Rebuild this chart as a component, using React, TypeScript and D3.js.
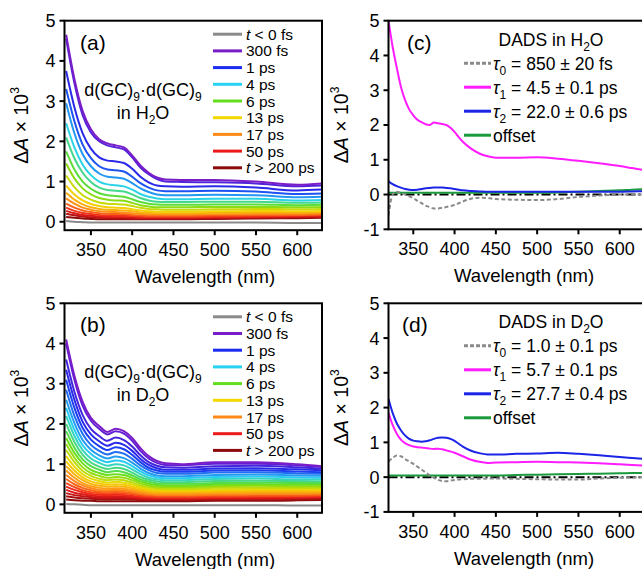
import React from 'react';
import * as d3 from 'd3';

// wavelength grid (nm) for the transient spectra in (a) and (b)
const wl = [320, 330, 340, 350, 360, 370, 380, 390, 400, 410, 420, 430, 440, 460, 500, 550, 600, 630];

// (a) transient spectra in H2O, early -> late
const h2oSpectra = [
  [4.65, 3.55, 2.75, 2.30, 2.05, 1.95, 1.90, 1.85, 1.65, 1.40, 1.22, 1.10, 1.05, 1.04, 1.04, 1.00, 0.92, 0.95],
  [4.55, 3.45, 2.65, 2.22, 2.00, 1.90, 1.85, 1.80, 1.60, 1.35, 1.18, 1.06, 1.00, 0.99, 0.98, 0.95, 0.88, 0.90],
  [3.75, 2.85, 2.20, 1.82, 1.60, 1.52, 1.50, 1.46, 1.32, 1.12, 0.98, 0.90, 0.88, 0.87, 0.88, 0.85, 0.78, 0.80],
  [3.30, 2.50, 1.92, 1.58, 1.38, 1.30, 1.28, 1.25, 1.12, 0.96, 0.85, 0.78, 0.76, 0.76, 0.77, 0.75, 0.69, 0.70],
  [2.95, 2.20, 1.68, 1.38, 1.20, 1.12, 1.10, 1.07, 0.96, 0.83, 0.74, 0.68, 0.66, 0.66, 0.67, 0.66, 0.61, 0.62],
  [2.45, 1.85, 1.42, 1.16, 1.00, 0.93, 0.91, 0.88, 0.80, 0.69, 0.62, 0.58, 0.56, 0.56, 0.57, 0.57, 0.53, 0.54],
  [2.10, 1.58, 1.22, 0.99, 0.85, 0.79, 0.77, 0.75, 0.68, 0.59, 0.53, 0.50, 0.49, 0.49, 0.50, 0.50, 0.47, 0.48],
  [1.75, 1.30, 1.00, 0.82, 0.71, 0.66, 0.64, 0.62, 0.56, 0.49, 0.45, 0.43, 0.42, 0.42, 0.43, 0.43, 0.41, 0.42],
  [1.45, 1.08, 0.83, 0.68, 0.59, 0.55, 0.53, 0.52, 0.47, 0.41, 0.38, 0.36, 0.36, 0.36, 0.37, 0.37, 0.36, 0.37],
  [1.15, 0.86, 0.66, 0.55, 0.48, 0.45, 0.44, 0.43, 0.39, 0.35, 0.32, 0.31, 0.30, 0.30, 0.31, 0.32, 0.31, 0.32],
  [0.90, 0.68, 0.53, 0.44, 0.39, 0.36, 0.35, 0.34, 0.31, 0.28, 0.26, 0.25, 0.25, 0.25, 0.26, 0.27, 0.26, 0.27],
  [0.72, 0.55, 0.43, 0.36, 0.32, 0.30, 0.29, 0.28, 0.26, 0.23, 0.22, 0.21, 0.21, 0.21, 0.22, 0.23, 0.23, 0.24],
  [0.58, 0.45, 0.35, 0.30, 0.26, 0.25, 0.24, 0.23, 0.21, 0.19, 0.18, 0.18, 0.18, 0.18, 0.19, 0.20, 0.20, 0.21],
  [0.45, 0.35, 0.28, 0.24, 0.21, 0.20, 0.19, 0.19, 0.17, 0.16, 0.15, 0.15, 0.15, 0.15, 0.16, 0.17, 0.17, 0.18],
  [0.35, 0.27, 0.22, 0.19, 0.17, 0.16, 0.15, 0.15, 0.14, 0.13, 0.12, 0.12, 0.12, 0.12, 0.13, 0.14, 0.15, 0.16],
  [0.27, 0.21, 0.17, 0.15, 0.13, 0.12, 0.12, 0.12, 0.11, 0.10, 0.10, 0.10, 0.10, 0.10, 0.11, 0.12, 0.13, 0.14],
  [0.20, 0.16, 0.13, 0.11, 0.10, 0.09, 0.09, 0.09, 0.08, 0.08, 0.08, 0.08, 0.08, 0.08, 0.09, 0.10, 0.11, 0.12],
  [0.12, 0.10, 0.08, 0.07, 0.06, 0.06, 0.06, 0.06, 0.06, 0.06, 0.06, 0.06, 0.06, 0.06, 0.07, 0.08, 0.09, 0.10],
];
const h2oBefore = [0.02, 0.0, -0.01, -0.02, -0.02, -0.02, -0.02, -0.02, -0.02, -0.02, -0.02, -0.02, -0.02, -0.02, -0.02, -0.02, -0.03, -0.03];

// (b) transient spectra in D2O, early -> late
const d2oSpectra = [
  [4.10, 3.20, 2.55, 2.15, 1.95, 1.80, 1.88, 1.82, 1.65, 1.40, 1.20, 1.08, 1.02, 1.00, 1.05, 1.05, 1.00, 0.95],
  [4.00, 3.10, 2.45, 2.08, 1.88, 1.74, 1.82, 1.76, 1.58, 1.33, 1.14, 1.03, 0.98, 0.97, 1.01, 1.01, 0.97, 0.93],
  [3.60, 2.80, 2.22, 1.88, 1.70, 1.58, 1.66, 1.60, 1.44, 1.22, 1.05, 0.96, 0.92, 0.91, 0.95, 0.96, 0.92, 0.89],
  [3.35, 2.60, 2.05, 1.74, 1.57, 1.46, 1.53, 1.48, 1.33, 1.13, 0.98, 0.90, 0.86, 0.86, 0.89, 0.90, 0.87, 0.85],
  [3.10, 2.40, 1.90, 1.61, 1.45, 1.35, 1.42, 1.37, 1.23, 1.05, 0.91, 0.84, 0.81, 0.81, 0.84, 0.85, 0.82, 0.80],
  [2.85, 2.20, 1.75, 1.48, 1.33, 1.24, 1.30, 1.26, 1.13, 0.97, 0.85, 0.78, 0.76, 0.76, 0.79, 0.80, 0.77, 0.76],
  [2.60, 2.02, 1.60, 1.36, 1.22, 1.14, 1.19, 1.15, 1.04, 0.89, 0.78, 0.72, 0.70, 0.70, 0.73, 0.74, 0.72, 0.71],
  [2.40, 1.85, 1.47, 1.25, 1.12, 1.05, 1.09, 1.06, 0.95, 0.82, 0.72, 0.67, 0.65, 0.65, 0.68, 0.69, 0.67, 0.66],
  [2.20, 1.70, 1.35, 1.14, 1.03, 0.96, 1.00, 0.97, 0.87, 0.75, 0.66, 0.62, 0.60, 0.60, 0.63, 0.64, 0.62, 0.62],
  [2.00, 1.55, 1.23, 1.04, 0.94, 0.88, 0.91, 0.88, 0.79, 0.68, 0.61, 0.57, 0.55, 0.55, 0.58, 0.59, 0.58, 0.57],
  [1.82, 1.41, 1.12, 0.95, 0.86, 0.80, 0.83, 0.80, 0.72, 0.62, 0.56, 0.52, 0.51, 0.51, 0.53, 0.54, 0.53, 0.53],
  [1.65, 1.28, 1.02, 0.86, 0.78, 0.73, 0.75, 0.73, 0.66, 0.57, 0.51, 0.48, 0.47, 0.47, 0.49, 0.50, 0.49, 0.49],
  [1.50, 1.16, 0.92, 0.78, 0.71, 0.66, 0.68, 0.66, 0.60, 0.52, 0.47, 0.44, 0.43, 0.43, 0.45, 0.46, 0.45, 0.45],
  [1.35, 1.05, 0.83, 0.71, 0.64, 0.60, 0.62, 0.60, 0.54, 0.47, 0.43, 0.40, 0.39, 0.39, 0.41, 0.42, 0.41, 0.41],
  [1.20, 0.94, 0.75, 0.64, 0.58, 0.54, 0.56, 0.54, 0.49, 0.43, 0.39, 0.37, 0.36, 0.36, 0.37, 0.38, 0.38, 0.38],
  [1.07, 0.84, 0.67, 0.57, 0.52, 0.49, 0.50, 0.49, 0.44, 0.39, 0.35, 0.33, 0.33, 0.33, 0.34, 0.35, 0.35, 0.35],
  [0.95, 0.75, 0.60, 0.51, 0.46, 0.44, 0.45, 0.44, 0.40, 0.35, 0.32, 0.30, 0.30, 0.30, 0.31, 0.32, 0.32, 0.32],
  [0.84, 0.66, 0.53, 0.45, 0.41, 0.39, 0.40, 0.39, 0.36, 0.32, 0.29, 0.27, 0.27, 0.27, 0.28, 0.29, 0.29, 0.29],
  [0.73, 0.58, 0.47, 0.40, 0.36, 0.35, 0.36, 0.35, 0.32, 0.28, 0.26, 0.24, 0.24, 0.24, 0.25, 0.26, 0.26, 0.27],
  [0.63, 0.50, 0.41, 0.35, 0.32, 0.31, 0.32, 0.31, 0.28, 0.25, 0.23, 0.22, 0.22, 0.22, 0.23, 0.24, 0.24, 0.24],
  [0.53, 0.43, 0.35, 0.30, 0.28, 0.27, 0.28, 0.27, 0.25, 0.22, 0.20, 0.19, 0.19, 0.19, 0.20, 0.21, 0.21, 0.22],
  [0.44, 0.36, 0.30, 0.26, 0.24, 0.23, 0.24, 0.23, 0.21, 0.19, 0.18, 0.17, 0.17, 0.17, 0.18, 0.19, 0.19, 0.20],
  [0.36, 0.29, 0.25, 0.22, 0.20, 0.19, 0.20, 0.19, 0.18, 0.16, 0.15, 0.15, 0.15, 0.15, 0.16, 0.16, 0.17, 0.18],
  [0.28, 0.23, 0.20, 0.18, 0.16, 0.16, 0.16, 0.16, 0.15, 0.14, 0.13, 0.13, 0.13, 0.13, 0.14, 0.14, 0.15, 0.16],
  [0.20, 0.17, 0.15, 0.14, 0.13, 0.12, 0.13, 0.12, 0.12, 0.11, 0.11, 0.11, 0.11, 0.11, 0.12, 0.12, 0.13, 0.14],
  [0.12, 0.10, 0.09, 0.09, 0.08, 0.08, 0.08, 0.08, 0.08, 0.08, 0.08, 0.08, 0.08, 0.08, 0.09, 0.09, 0.10, 0.11],
];
const d2oBefore = [0.01, 0.0, -0.01, -0.02, -0.02, -0.02, -0.02, -0.02, -0.02, -0.02, -0.02, -0.02, -0.02, -0.02, -0.02, -0.02, -0.03, -0.03];

const legendLabels = ['t < 0 fs', '300 fs', '1 ps', '4 ps', '6 ps', '13 ps', '17 ps', '50 ps', 't > 200 ps'];
const legendColors = ['#8a8a8a', '#7a1cc8', '#1a2cf0', '#28d2f2', '#62de1e', '#f2d800', '#ff8a1a', '#ec1a1a', '#8c0c0c'];

// DADS wavelength grid and amplitudes
const dadsWl = [320, 325, 330, 335, 340, 345, 350, 355, 360, 365, 370, 375, 380, 385, 390, 395, 400, 405, 410, 420, 430, 440, 450, 475, 500, 525, 550, 575, 600, 615, 630];
const h2oTau0 = [-0.6, 0.0, 0.08, 0.05, 0.0, -0.05, -0.1, -0.18, -0.25, -0.32, -0.36, -0.4, -0.4, -0.38, -0.36, -0.33, -0.3, -0.25, -0.2, -0.12, -0.09, -0.1, -0.13, -0.15, -0.16, -0.13, -0.07, -0.03, 0.0, 0.0, 0.0];
const h2oTau1 = [5.0, 4.25, 3.65, 3.1, 2.72, 2.45, 2.28, 2.15, 2.08, 2.02, 2.0, 2.07, 2.05, 2.03, 2.0, 1.92, 1.8, 1.65, 1.52, 1.32, 1.18, 1.1, 1.06, 1.06, 1.07, 1.03, 0.97, 0.9, 0.82, 0.76, 0.7];
const h2oTau2 = [0.38, 0.3, 0.24, 0.2, 0.16, 0.14, 0.13, 0.14, 0.16, 0.18, 0.19, 0.2, 0.2, 0.2, 0.19, 0.18, 0.16, 0.14, 0.12, 0.1, 0.09, 0.08, 0.08, 0.08, 0.08, 0.08, 0.08, 0.08, 0.08, 0.09, 0.1];
const h2oOffset = [0.05, 0.05, 0.05, 0.05, 0.05, 0.05, 0.05, 0.05, 0.05, 0.05, 0.05, 0.05, 0.05, 0.05, 0.05, 0.05, 0.05, 0.05, 0.05, 0.05, 0.05, 0.05, 0.05, 0.05, 0.05, 0.06, 0.08, 0.1, 0.12, 0.14, 0.15];
const d2oTau0 = [0.45, 0.55, 0.62, 0.6, 0.52, 0.45, 0.38, 0.3, 0.22, 0.13, 0.05, -0.02, -0.08, -0.11, -0.12, -0.1, -0.08, -0.07, -0.06, -0.05, -0.05, -0.04, -0.04, -0.05, -0.06, -0.07, -0.07, -0.04, -0.02, -0.01, 0.0];
const d2oTau1 = [1.85, 1.5, 1.25, 1.08, 0.98, 0.92, 0.88, 0.86, 0.85, 0.84, 0.82, 0.81, 0.82, 0.8, 0.77, 0.74, 0.7, 0.65, 0.6, 0.5, 0.44, 0.41, 0.42, 0.43, 0.44, 0.43, 0.42, 0.4, 0.37, 0.35, 0.33];
const d2oTau2 = [2.25, 1.85, 1.55, 1.35, 1.2, 1.1, 1.05, 1.03, 1.02, 1.03, 1.06, 1.1, 1.13, 1.14, 1.13, 1.1, 1.04, 0.96, 0.88, 0.76, 0.69, 0.65, 0.65, 0.67, 0.68, 0.7, 0.67, 0.63, 0.58, 0.55, 0.52];
const d2oOffset = [0.05, 0.05, 0.05, 0.05, 0.05, 0.05, 0.05, 0.05, 0.05, 0.05, 0.05, 0.05, 0.05, 0.05, 0.05, 0.05, 0.05, 0.05, 0.05, 0.05, 0.05, 0.05, 0.05, 0.06, 0.07, 0.08, 0.09, 0.1, 0.11, 0.12, 0.12];

const xTicks = [350, 400, 450, 500, 550, 600];
const yTicksAB = [0, 1, 2, 3, 4, 5];
const yTicksCD = [-1, 0, 1, 2, 3, 4, 5];

const rainbow = ['#7a1cc8', '#1a2cf0', '#28d2f2', '#62de1e', '#f2d800', '#ff8a1a', '#ec1a1a', '#8c0c0c'];
const FONT = '"Liberation Sans", Arial, Helvetica, sans-serif';

// subscript followed by the rest of the text on the normal baseline
const sub = (t, rest) => [
  <tspan key="s" fontSize="12" dy="5">{t}</tspan>,
  rest ? <tspan key="r" dy="-5">{rest}</tspan> : null,
];

function Axes({ x, y, yTicks, titleX, yTitleX }) {
  const [x0, x1] = x.range();
  const [yb, yt] = y.range();
  const yc = (yb + yt) / 2;
  return (
    <g fontFamily={FONT} fill="#000">
      {yTicks.map(t => (
        <g key={'y' + t}>
          <line x1={x0 - 5} x2={x0} y1={y(t)} y2={y(t)} stroke="#000" strokeWidth={2} />
          <text x={x0 - 9} y={y(t)} dy="0.36em" textAnchor="end" fontSize="18">{t}</text>
        </g>
      ))}
      {xTicks.map(t => (
        <g key={'x' + t}>
          <line x1={x(t)} x2={x(t)} y1={yb} y2={yb + 5} stroke="#000" strokeWidth={2} />
          <text x={x(t)} y={yb + 26} textAnchor="middle" fontSize="18">{t}</text>
        </g>
      ))}
      <text x={titleX} y={yb + 53} textAnchor="middle" fontSize="18.5">Wavelength (nm)</text>
      <text transform={`translate(${yTitleX},${yc}) rotate(-90)`} textAnchor="middle" fontSize="19.5">
        Δ<tspan fontStyle="italic">A</tspan> × 10<tspan fontSize="12" dy="-9">3</tspan>
      </text>
      <rect x={x0} y={yt} width={x1 - x0} height={yb - yt} fill="none" stroke="#000" strokeWidth={2} />
    </g>
  );
}

function SpectraPanel({ top, spectra, before, letter, solvent }) {
  const x = d3.scaleLinear().domain([318, 630]).range([64.5, 322]);
  const y = d3.scaleLinear().domain([-0.21, 5]).range([top + 209.5, top]);
  const line = d3.line().x((d, i) => x(wl[i])).y(d => y(d)).curve(d3.curveMonotoneX);
  const col = d3.piecewise(d3.interpolateRgb, rainbow);
  const id = 'clip' + letter;
  return (
    <g>
      <clipPath id={id}>
        <rect x={x.range()[0]} y={top} width={x.range()[1] - x.range()[0]} height={209.5} />
      </clipPath>
      <g clipPath={`url(#${id})`} fill="none">
        {spectra.slice().reverse().map((s, k) => {
          const i = spectra.length - 1 - k;
          return <path key={i} d={line(s)} stroke={col(i / (spectra.length - 1))} strokeWidth={2} />;
        })}
        <path d={line(before)} stroke={legendColors[0]} strokeWidth={2} />
      </g>
      <Axes x={x} y={y} yTicks={yTicksAB} titleX={205} yTitleX={28} />
      <g fontFamily={FONT}>
        <text x={80} y={top + 29} fontSize="21">({letter})</text>
        <text x={143} y={top + 75} textAnchor="middle" fontSize="18">
          d(GC){sub('9', '·d(GC)')}{sub('9')}
        </text>
        <text x={143} y={top + 98} textAnchor="middle" fontSize="18">
          {'in ' + solvent}{sub('2', 'O')}
        </text>
        {legendLabels.map((l, i) => {
          const ly = top + 13.5 + i * 16.7;
          const italicT = l.startsWith('t ');
          return (
            <g key={l}>
              <line x1={213} x2={242} y1={ly} y2={ly} stroke={legendColors[i]} strokeWidth={3} />
              <text x={246} y={ly} dy="0.36em" fontSize="15.5">
                {italicT ? <><tspan fontStyle="italic">t</tspan>{l.slice(1)}</> : l}
              </text>
            </g>
          );
        })}
      </g>
    </g>
  );
}

function DadsPanel({ top, tau0, tau1, tau2, offset, letter, solvent, labels }) {
  const x = d3.scaleLinear().domain([320, 630]).range([388.5, 644.5]);
  const y = d3.scaleLinear().domain([-1, 5]).range([top + 208.6, top]);
  const line = d3.line().x((d, i) => x(dadsWl[i])).y(d => y(d)).curve(d3.curveMonotoneX);
  const id = 'clip' + letter;
  const series = [
    { v: tau0, color: '#8a8a8a', dash: '4,2.5' },
    { v: tau1, color: '#ff1cff', dash: null },
    { v: tau2, color: '#1c24e6', dash: null },
    { v: offset, color: '#1a9a3c', dash: null },
  ];
  const rows = [0, 1, 2, 3].map(i => top + 42.5 + i * 24);
  return (
    <g>
      <clipPath id={id}>
        <rect x={x.range()[0]} y={top} width={x.range()[1] - x.range()[0]} height={208.6} />
      </clipPath>
      <g clipPath={`url(#${id})`} fill="none">
        <line x1={x(320)} x2={x(630)} y1={y(0)} y2={y(0)} stroke="#000" strokeWidth={2} strokeDasharray="9,3,2,3" />
        <path d={line(offset)} stroke={series[3].color} strokeWidth={2} />
        <path d={line(tau0)} stroke={series[0].color} strokeWidth={2} strokeDasharray={series[0].dash} />
        <path d={line(tau2)} stroke={series[2].color} strokeWidth={2} />
        <path d={line(tau1)} stroke={series[1].color} strokeWidth={2} />
      </g>
      <Axes x={x} y={y} yTicks={yTicksCD} titleX={524} yTitleX={348} />
      <g fontFamily={FONT}>
        <text x={letter === 'c' ? 407 : 402} y={top + 29} fontSize="21">({letter})</text>
        <text x={551} y={top + 25} textAnchor="middle" fontSize="17.5">
          {'DADS in ' + solvent}{sub('2', 'O')}
        </text>
        {series.map((s, i) => (
          <g key={i}>
            <line x1={464} x2={491} y1={rows[i]} y2={rows[i]} stroke={s.color} strokeWidth={3}
              strokeDasharray={s.dash ? '4,2' : null} />
            <text x={493} y={rows[i]} dy="0.36em" fontSize="17.5">
              {i < 3 ? (
                <>
                  <tspan fontStyle="italic">τ</tspan>{sub(String(i), ' = ' + labels[i])}
                </>
              ) : 'offset'}
            </text>
          </g>
        ))}
      </g>
    </g>
  );
}

export default function App() {
  return (
    <svg width={642} height={569} style={{ position: 'absolute', left: 0, top: 0, background: '#fff' }}>
      <rect width={642} height={569} fill="#fff" />
      <SpectraPanel top={20.7} spectra={h2oSpectra} before={h2oBefore} letter="a" solvent="H" />
      <SpectraPanel top={303.3} spectra={d2oSpectra} before={d2oBefore} letter="b" solvent="D" />
      <DadsPanel top={20.7} tau0={h2oTau0} tau1={h2oTau1} tau2={h2oTau2} offset={h2oOffset}
        letter="c" solvent="H" labels={['850 ± 20 fs', '4.5 ± 0.1 ps', '22.0 ± 0.6 ps']} />
      <DadsPanel top={303.3} tau0={d2oTau0} tau1={d2oTau1} tau2={d2oTau2} offset={d2oOffset}
        letter="d" solvent="D" labels={['1.0 ± 0.1 ps', '5.7 ± 0.1 ps', '27.7 ± 0.4 ps']} />
    </svg>
  );
}
